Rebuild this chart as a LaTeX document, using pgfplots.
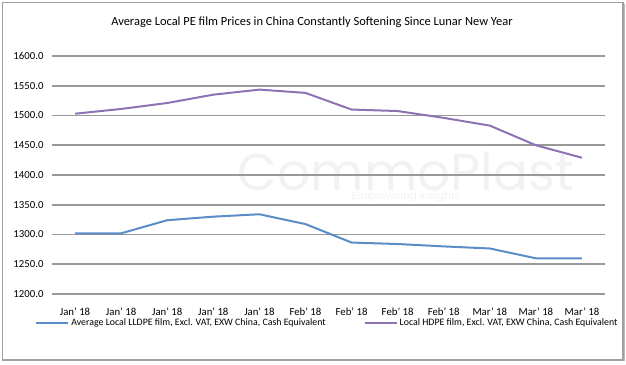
\documentclass[border=0pt]{standalone}
\usepackage{pgfplots}
\pgfplotsset{compat=1.18}
\usepackage{fontspec}
\setmainfont{Carlito}
\newfontfamily\wmfont{Poppins}
\definecolor{lblue}{HTML}{5A8CC8}
\definecolor{lpurple}{HTML}{8E72B4}
\definecolor{gridgray}{HTML}{999999}
\definecolor{framegray}{HTML}{A0A0A0}
\definecolor{wmgray}{HTML}{F1F2F2}
\begin{document}
\begin{tikzpicture}[x=1bp,y=1bp]
\useasboundingbox (0,0) rectangle (626,364);
\node[text=wmgray, inner sep=0pt, anchor=north, align=center, font=\wmfont\fontsize{10.5}{12}\selectfont] at (406,212.5)
  {{\fontsize{52}{56}\selectfont CommoPlast}\\[-2bp]Empowering Insights};
\begin{axis}[
  at={(52bp,70bp)}, anchor=south west,
  scale only axis, width=553bp, height=238bp,
  xmin=-0.5, xmax=11.5, ymin=1200, ymax=1600,
  ytick={1200,1250,...,1600},
  xtick={0,...,11},
  xticklabels={Jan' 18,Jan' 18,Jan' 18,Jan' 18,Jan' 18,Feb' 18,Feb' 18,Feb' 18,Feb' 18,Mar' 18,Mar' 18,Mar' 18},
  axis line style={draw=none},
  major tick style={draw=none},
  ymajorgrids,
  grid style={gridgray, line width=1.6bp},
  /pgf/number format/assume math mode=true,
  ticklabel style={font=\fontsize{10.8}{12}\selectfont, text=black},
  yticklabel style={xshift=-5bp, /pgf/number format/.cd, fixed, fixed zerofill, precision=1, 1000 sep={}},
  xticklabel style={yshift=-10bp},
  legend columns=2,
  legend style={draw=none, fill=none, at={(0.498,-0.122)}, anchor=center,
    font=\fontsize{9.9}{11}\selectfont, /tikz/every even column/.append style={column sep=36bp}},
  legend image code/.code={\draw[#1, line width=2bp] (0bp,0bp) -- (32bp,0bp);},
]
\addplot[lblue, line width=2bp] coordinates {
(0,1302) (1,1302) (2,1324) (3,1330) (4,1334) (5,1317.5) (6,1286.5) (7,1284) (8,1280) (9,1276.5) (10,1260) (11,1260)};
\addlegendentry{Average Local LLDPE film, Excl. VAT, EXW China, Cash Equivalent}
\addplot[lpurple, line width=2bp] coordinates {
(0,1503) (1,1511) (2,1521) (3,1535) (4,1543.5) (5,1538) (6,1510) (7,1507.5) (8,1496) (9,1483) (10,1450) (11,1429)};
\addlegendentry{Local HDPE film, Excl. VAT, EXW China, Cash Equivalent}
\end{axis}
\node at (312,342) {\fontsize{12.5}{14}\selectfont Average Local PE film Prices in China Constantly Softening Since Lunar New Year};
\draw[framegray, line width=1.5bp] (2.5,4) rectangle (623,361.5);
\draw[framegray!70, line width=1.5bp] (624.5,3) -- (624.5,360);
\end{tikzpicture}
\end{document}
